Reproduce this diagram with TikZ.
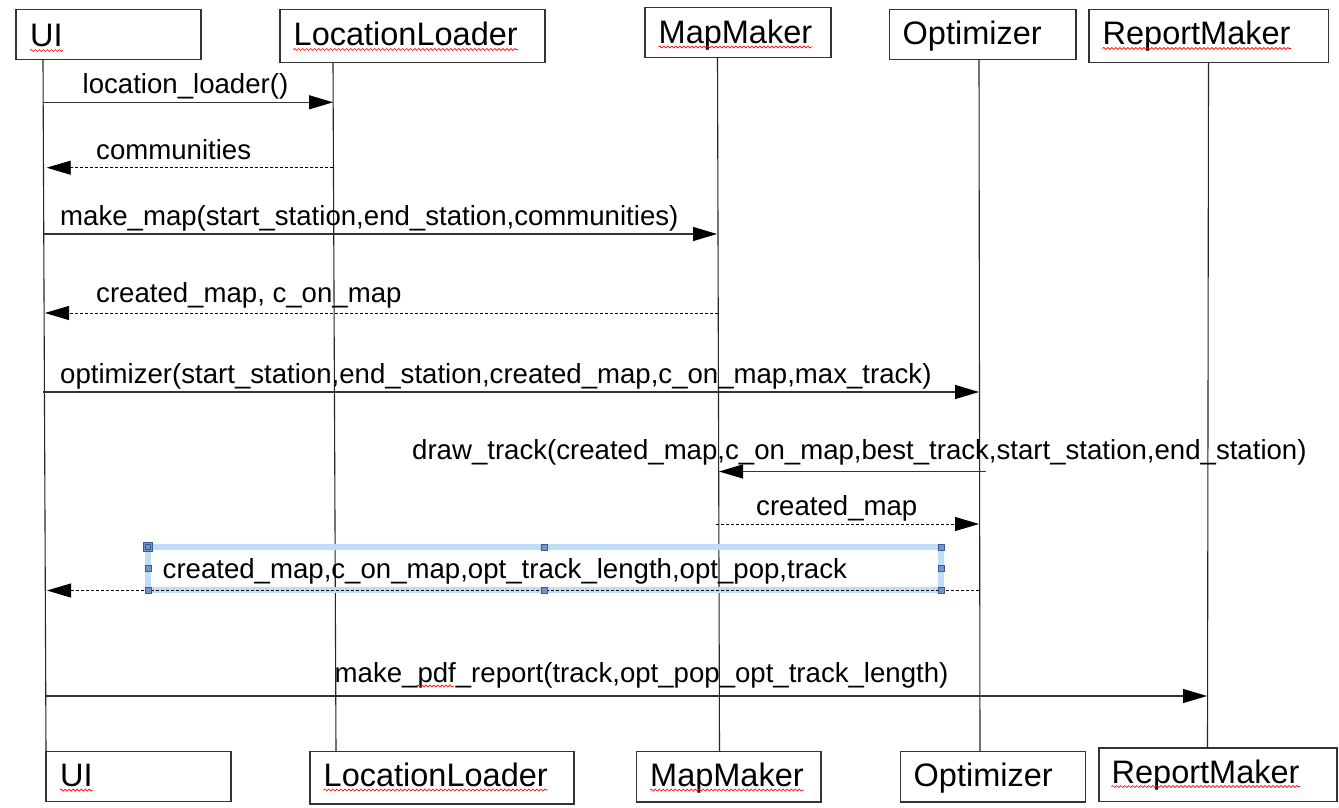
\documentclass[tikz,border=0pt]{standalone}
\usepackage{fontspec}
\setmainfont{Liberation Sans}
\usetikzlibrary{arrows.meta,decorations.pathmorphing}
\definecolor{selblue}{HTML}{BFDDF7}
\definecolor{handlefill}{HTML}{7594C8}
\definecolor{handleedge}{HTML}{3A5A94}
\definecolor{linegray}{HTML}{333333}
\begin{document}
\begin{tikzpicture}[x=1pt,y=-1pt,
 box/.style={draw=linegray, line width=1.2pt, anchor=north west, inner sep=0, outer sep=0, rectangle},
 boxlabel/.style={anchor=base west, inner sep=0, font=\fontsize{32.5}{39}\selectfont},
 msglabel/.style={anchor=base west, inner sep=0, font=\fontsize{27.6}{33}\selectfont},
 lifeline/.style={draw=black!85, line width=1.1pt},
 tip/.style={-{Triangle[length=24pt,width=14pt,color=black]}},
 call/.style={draw=linegray, line width=1.1pt, tip},
 reply/.style={draw=black, line width=0.9pt, dash pattern=on 3pt off 2pt, tip},
 squiggle/.style={draw=red, line width=0.7pt, decorate, decoration={snake, segment length=4pt, amplitude=1pt}},
 handle/.style={draw=handleedge, fill=handlefill, line width=0.6pt, minimum size=6pt, inner sep=0, rectangle}
]
\useasboundingbox (0,0) rectangle (1339,808);
\fill[white] (0,0) rectangle (1339,808);

% top boxes
\node[box, minimum width=185pt, minimum height=50pt] (uiT) at (16,9.5) {};
\node[box, minimum width=265pt, minimum height=53pt] (llT) at (280,9.5) {};
\node[box, minimum width=186pt, minimum height=50pt] (mmT) at (645,7.5) {};
\node[box, minimum width=186.5pt, minimum height=50pt] (opT) at (889.5,9.5) {};
\node[box, minimum width=239.5pt, minimum height=53pt] (rmT) at (1089,9.5) {};
\node[boxlabel] (uiTl) at (30,47) {UI};
\node[boxlabel] (llTl) at (293.5,46) {LocationLoader};
\node[boxlabel] (mmTl) at (658.5,43.5) {MapMaker};
\node[boxlabel] (opTl) at (902.5,45) {Optimizer};
\node[boxlabel] (rmTl) at (1102.5,45) {ReportMaker};

% bottom boxes
\node[box, minimum width=185pt, minimum height=50pt] (uiB) at (46,751.5) {};
\node[box, minimum width=264pt, minimum height=52.5pt] (llB) at (310,751.5) {};
\node[box, minimum width=184.5pt, minimum height=50.5pt] (mmB) at (636.5,751.5) {};
\node[box, minimum width=185pt, minimum height=50.5pt] (opB) at (900.5,751.5) {};
\node[box, minimum width=238pt, minimum height=53.5pt] (rmB) at (1099,748) {};
\node[boxlabel] (uiBl) at (60,786.5) {UI};
\node[boxlabel] (llBl) at (323.5,786.5) {LocationLoader};
\node[boxlabel] (mmBl) at (650,786.5) {MapMaker};
\node[boxlabel] (opBl) at (913.5,786.5) {Optimizer};
\node[boxlabel] (rmBl) at (1111.5,783) {ReportMaker};

% spell-check squiggles
\foreach \n in {uiTl,llTl,mmTl,rmTl,uiBl,llBl,mmBl,rmBl}
  \draw[squiggle] ([yshift=-3.5pt]\n.base west) -- ([yshift=-3.5pt]\n.base east);

% lifelines
\coordinate (uiA) at (43,60); \coordinate (uiZ) at (46,751.5);
\coordinate (llA) at (333,62.5); \coordinate (llZ) at (336,751.5);
\coordinate (mmA) at (717.5,57.5); \coordinate (mmZ) at (719.5,751.5);
\coordinate (opA) at (979,59.5); \coordinate (opZ) at (980,751.5);
\coordinate (rmA) at (1208.5,62.5); \coordinate (rmZ) at (1207.5,748);
\foreach \l in {ui,ll,mm,op,rm}
  \draw[lifeline] (\l A) -- (\l Z);

% selection frame
\node[draw=selblue, line width=6pt, anchor=north west, minimum width=793pt, minimum height=43pt, inner sep=0, outer sep=0, rectangle] (sel) at (148,547) {};

% messages
\coordinate (m1s) at (43,102.3); \coordinate (m1e) at (333,102.3);
\draw[call] (m1s) -- (m1e);
\node[msglabel] (m1l) at (82.5,93.3) {location\_loader()};

\coordinate (m2s) at (333,167.7); \coordinate (m2e) at (46.7,167.7);
\draw[reply] (m2s) -- (m2e);
\node[msglabel] (m2l) at (96,159) {communities};

\coordinate (m3s) at (43,234); \coordinate (m3e) at (717,234);
\draw[call] (m3s) -- (m3e);
\node[msglabel] (m3l) at (60,225) {make\_map(start\_station,end\_station,communities)};

\coordinate (m4s) at (718,313); \coordinate (m4e) at (45,313);
\draw[reply] (m4s) -- (m4e);
\node[msglabel] (m4l) at (96,302) {created\_map, c\_on\_map};

\coordinate (m5s) at (43,392); \coordinate (m5e) at (979,392);
\draw[call] (m5s) -- (m5e);
\node[msglabel] (m5l) at (60,383) {optimizer(start\_station,end\_station,created\_map,c\_on\_map,max\_track)};

\coordinate (m6s) at (986,471.5); \coordinate (m6e) at (719,471.5);
\draw[call] (m6s) -- (m6e);
\node[msglabel] (m6l) at (412,459) {draw\_track(created\_map,c\_on\_map,best\_track,start\_station,end\_station)};

\coordinate (m7s) at (716,524); \coordinate (m7e) at (979,524);
\draw[reply] (m7s) -- (m7e);
\node[msglabel] (m7l) at (756,515.5) {created\_map};

\coordinate (m8s) at (979,590.5); \coordinate (m8e) at (47,590.5);
\draw[reply] (m8s) -- (m8e);
\node[msglabel] (m8l) at (162.5,578.3) {created\_map,c\_on\_map,opt\_track\_length,opt\_pop,track};

\coordinate (m9s) at (46,696); \coordinate (m9e) at (1207,696);
\draw[call] (m9s) -- (m9e);
\node[msglabel] (m9l) at (334.5,682.7) {make\_pdf\_report(track,opt\_pop\_opt\_track\_length)};
\coordinate (pdfA) at (416.7,686); \coordinate (pdfB) at (453.8,686);
\draw[squiggle] (pdfA) -- (pdfB);

% selection handles
\node[handle, minimum size=9pt] (hTL) at (sel.north west) {};
\node[draw=handleedge, line width=0.5pt, minimum size=5pt, inner sep=0, rectangle] (hTLi) at (sel.north west) {};
\node[handle] (hT) at (sel.north) {};
\node[handle] (hTR) at (sel.north east) {};
\node[handle] (hL) at (sel.west) {};
\node[handle] (hR) at (sel.east) {};
\node[handle] (hBL) at (sel.south west) {};
\node[handle] (hB) at (sel.south) {};
\node[handle] (hBR) at (sel.south east) {};
\end{tikzpicture}
\end{document}
